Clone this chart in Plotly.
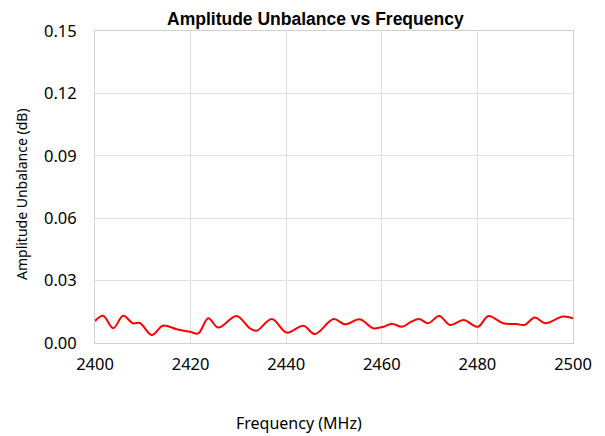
import plotly.graph_objects as go

freq_mhz = [2400.0, 2401.7, 2403.8, 2405.9, 2407.9, 2409.4, 2411.9, 2414.2, 2417.1,
            2419.9, 2421.6, 2423.7, 2425.8, 2429.6, 2432.4, 2433.8, 2437.0, 2440.1,
            2443.6, 2446.0, 2449.9, 2452.3, 2455.4, 2458.2, 2460.3, 2462.1, 2464.2,
            2466.0, 2467.8, 2469.7, 2472.0, 2474.3, 2477.1, 2480.1, 2482.3, 2485.4,
            2488.2, 2489.9, 2492.0, 2494.1, 2497.9, 2500.0]
unbalance_db = [0.0106, 0.0131, 0.0071, 0.0131, 0.0095, 0.0096, 0.0038, 0.0083, 0.0066,
                0.0054, 0.0046, 0.0119, 0.0074, 0.0130, 0.0071, 0.0059, 0.0115, 0.0050,
                0.0083, 0.0043, 0.0115, 0.0090, 0.0114, 0.0071, 0.0078, 0.0093, 0.0078,
                0.0100, 0.0115, 0.0095, 0.0130, 0.0087, 0.0110, 0.0078, 0.0130, 0.0095,
                0.0091, 0.0087, 0.0123, 0.0095, 0.0127, 0.0119]

x_ticks = [2400, 2420, 2440, 2460, 2480, 2500]
y_ticks = [0.00, 0.03, 0.06, 0.09, 0.12, 0.15]

axis_font = "Noto Sans, Open Sans, sans-serif"

fig = go.Figure(go.Scatter(
    x=freq_mhz, y=unbalance_db, mode="lines",
    line=dict(color="#ff0000", width=2, shape="spline", smoothing=1.0),
    showlegend=False))

fig.update_layout(
    width=605, height=436,
    margin=dict(l=87, r=40, t=23, b=101),
    paper_bgcolor="white", plot_bgcolor="white",
    font=dict(family=axis_font, color="#000000"),
    title=dict(text="<b>Amplitude Unbalance vs Frequency</b>",
               x=0.508, xanchor="center", y=0.99, yanchor="top",
               font=dict(family="Arial, Liberation Sans, sans-serif", size=17.5, color="#000000")),
    annotations=[
        dict(text="Frequency (MHz)", xref="paper", yref="paper",
             x=0.427, y=-0.256, xanchor="center", yanchor="middle",
             showarrow=False, font=dict(size=16)),
        dict(text="Amplitude Unbalance (dB)", xref="paper", yref="paper",
             x=-0.1527, y=0.4776, xanchor="center", yanchor="middle", textangle=-90,
             showarrow=False, font=dict(size=14)),
    ],
)
fig.update_xaxes(
    range=[2400, 2500], tickvals=x_ticks, ticktext=[str(t) for t in x_ticks],
    showgrid=True, gridcolor="#e0e0e0", gridwidth=1,
    showline=True, linecolor="#d0d0d0", linewidth=1, mirror=True,
    ticks="", tickfont=dict(size=16.5), ticklabelstandoff=6,
    zeroline=False, automargin=False,
)
fig.update_yaxes(
    range=[0, 0.15], tickvals=y_ticks, ticktext=[f"{t:.2f}" for t in y_ticks],
    showgrid=True, gridcolor="#e0e0e0", gridwidth=1,
    showline=True, linecolor="#d0d0d0", linewidth=1, mirror=True,
    ticks="", tickfont=dict(size=16.5), ticklabelstandoff=14,
    zeroline=False, automargin=False,
)

fig.write_html("out.html")
